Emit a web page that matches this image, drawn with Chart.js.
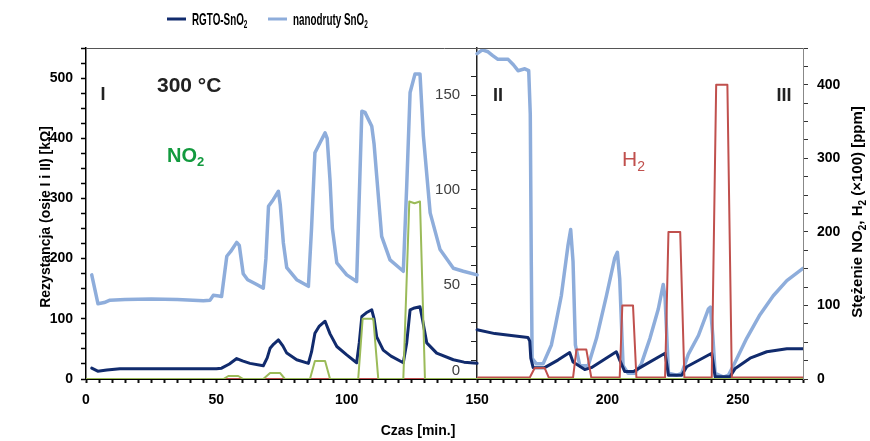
<!DOCTYPE html>
<html>
<head>
<meta charset="utf-8">
<script src="https://cdn.jsdelivr.net/npm/chart.js@4.4.1/dist/chart.umd.min.js"></script>
<style>
  body { margin: 0; background: #fff; }
  #wrap { width: 870px; height: 441px; }
</style>
</head>
<body>
<div id="wrap"><canvas id="myChart" width="870" height="441"></canvas></div>
<script>
// serie
const seriesNames = ['RGTO-SnO₂', 'nanodruty SnO₂'];

// RGTO-SnO2, os I (0-150 min)
const rgtoLeftTime = [2.2, 4.5, 8, 13, 30, 50, 52, 55, 57.8, 60, 62.9, 68, 69.5, 70.6, 72, 73.8, 75.5, 77, 80.8, 85.3,
  86.5, 87.8, 89.5, 91.7, 93.6, 96.2, 100, 103.8, 104.8, 105.8, 107.5, 109.6, 110.5, 111.5, 114, 117, 121.7, 123, 124.3, 126,
  128.1, 129, 130.7, 134.5, 140.9, 145, 150];
const rgtoLeftRes = [18, 13, 15, 17, 17, 17, 18, 25, 34, 30, 26, 22, 35, 51, 58, 65, 55, 43, 32, 26,
  45, 76, 88, 96, 75, 54, 40, 27, 60, 104, 110, 115, 100, 70, 48, 38, 27, 60, 115, 118,
  120, 100, 60, 43, 32, 28, 26];

// RGTO-SnO2, os II (150-275 min)
const rgtoRightTime = [150, 156.8, 163.1, 169.5, 170.2, 170.6, 171.5, 175.9, 181, 185.5, 186.8, 191.3, 193.8, 203.4, 204.7,
  206.6, 210, 212.5, 222.1, 223.4, 228.5, 230.4, 240, 241.3, 247, 249, 254.7, 261.1, 268.8, 275];
const rgtoRightRes = [26, 24, 23, 22, 20, 11, 6, 6, 10, 14, 9, 5, 6, 14.4, 10,
  4, 4, 6, 13.6, 2, 2, 6.5, 13.6, 1.2, 1.2, 5.6, 11, 14.4, 16, 16];

// nanodruty SnO2, os I
const nanoLeftTime = [2.2, 4.6, 7, 9.2, 15, 25, 35, 45, 47.6, 48.8, 51, 52, 54, 55.5, 57.8, 58.8, 60.3, 62, 65.5, 68,
  69, 70, 71.8, 73.8, 74.5, 75.7, 77, 80.8, 85.3, 86.5, 87.8, 89.8, 91.7, 92.5, 93.6, 94.5, 96.2, 100, 103.8, 105,
  105.8, 107, 109.6, 110.5, 111.5, 113.4, 116.6, 121.7, 123, 124.3, 126.2, 128.1, 129.4, 132, 135.8, 140.9, 144.7, 150];
const nanoLeftRes = [173, 125, 127, 131, 132, 133, 132, 130, 131, 139, 138, 137, 204, 212, 227, 222, 175, 165, 157, 151,
  200, 287, 298, 312, 290, 226, 185, 165, 154, 250, 376, 393, 409, 400, 330, 250, 193, 173, 162, 330,
  445, 443, 420, 390, 337, 237, 198, 179, 320, 476, 507, 507, 404, 276, 215, 184, 179, 173];

// nanodruty SnO2, os II
const nanoRightTime = [150, 152, 154.2, 156, 158, 161.9, 164, 165.7, 168.3, 169.8, 170.4, 170.8, 171.1, 172.7, 175.3, 178.5,
  180, 182.3, 184.9, 185.9, 186.8, 187.7, 189.4, 192.6, 195.8, 199.6, 202.8, 203.8, 204.7, 206, 207.9, 210.5, 213,
  216.3, 219.5, 221.4, 222.1, 223.4, 226.6, 228.5, 231, 234.9, 238.7, 239.5, 240.4, 241.3, 244.5, 246.4, 249, 253.4,
  258.5, 263.6, 268.8, 275];
const nanoRightRes = [172, 174, 173, 171, 169, 169, 166, 163, 164, 163, 140, 60, 11, 8, 8, 18,
  28, 44, 71, 79, 62, 18, 7, 7, 21.5, 44, 64, 67, 53, 7, 3, 3, 8,
  21.5, 37, 50, 43, 3, 2, 3, 13, 23, 37, 38, 23, 3, 1, 2, 9, 21.5,
  34, 44, 52, 58.5];

// stezenie NO2 (os I) i H2 (os III)
const no2Time = [0, 52.7, 54.6, 58.4, 60.3, 68, 70.6, 74.4, 76.3, 85.9, 87.8, 91.7, 93.6, 104.4, 106.1, 110.2, 112.1,
  121.7, 124, 126, 128.1, 130, 275];
const no2Conc = [0, 0, 5, 5, 0, 0, 10, 10, 0, 0, 30, 30, 0, 0, 100, 100, 0, 0, 295, 292, 295, 0, 0];
const h2Time = [0, 150, 150.5, 170.2, 172.1, 175.9, 177.5, 186.8, 188.1, 191.9, 193.8, 204.7, 205.7, 209.8, 211.1,
  222.1, 223.4, 227.9, 229.5, 240, 241.7, 246, 247.7, 275];
const h2Conc = [0, 0, 2, 2, 15, 15, 2, 2, 40, 40, 2, 2, 100, 100, 2, 2, 200, 200, 2, 2, 400, 400, 2, 2];

// osie
const axisITicks = [0, 100, 200, 300, 400, 500];
const axisIITicks = [0, 50, 100, 150];
const axisIIITicks = [0, 100, 200, 300, 400];
const timeTicks = [0, 50, 100, 150, 200, 250];

const FONT = '"Liberation Sans", Arial, sans-serif';
const DARK = '#112b6d';
const LIGHT = '#8eaddb';

const pts = (t, v) => t.map((x, i) => ({ x: x, y: v[i] }));

// tekst z indeksem dolnym (₂)
function drawRich(ctx, text, x, y, o) {
  const parts = [];
  for (const ch of text) {
    const sub = ch === '₂';
    const c = sub ? '2' : ch;
    const last = parts[parts.length - 1];
    if (last && last.sub === sub) last.t += c; else parts.push({ t: c, sub: sub });
  }
  const w = o.weight || 'normal';
  const fontFor = p => w + ' ' + (p.sub ? Math.round(o.size * 0.65) : o.size) + 'px ' + FONT;
  let total = 0;
  parts.forEach(p => { ctx.font = fontFor(p); p.w = ctx.measureText(p.t).width; total += p.w; });
  ctx.save();
  ctx.translate(x, y);
  if (o.rotate) ctx.rotate(o.rotate);
  ctx.scale(o.sx || 1, 1);
  let cx = o.align === 'center' ? -total / 2 : (o.align === 'right' ? -total : 0);
  ctx.fillStyle = o.color || '#000';
  ctx.textBaseline = 'middle';
  ctx.textAlign = 'left';
  parts.forEach(p => {
    ctx.font = fontFor(p);
    ctx.fillText(p.t, cx, p.sub ? o.size * 0.32 : 0);
    cx += p.w;
  });
  ctx.restore();
}

const overlay = {
  id: 'overlay',
  afterDraw(chart) {
    const ctx = chart.ctx;
    const a = chart.chartArea;
    ctx.save();
    // gorna ramka
    ctx.strokeStyle = '#555';
    ctx.lineWidth = 1;
    ctx.beginPath();
    ctx.moveTo(a.left, a.top + 0.5);
    ctx.lineTo(a.right, a.top + 0.5);
    ctx.stroke();

    // legenda
    const lx = [167, 268];
    seriesNames.forEach((name, i) => {
      ctx.strokeStyle = i === 0 ? DARK : LIGHT;
      ctx.lineWidth = 3;
      ctx.beginPath();
      ctx.moveTo(lx[i], 19);
      ctx.lineTo(lx[i] + 19, 19);
      ctx.stroke();
      drawRich(ctx, name, lx[i] + 25, 20, { size: 17, weight: 'bold', sx: 0.58 });
    });

    // tytuly osi
    drawRich(ctx, 'Czas [min.]', 418, 431, { size: 14, weight: 'bold', align: 'center' });
    drawRich(ctx, 'Rezystancja (osie I i II) [kΩ]', 46, 217, { size: 14, weight: 'bold', align: 'center', rotate: -Math.PI / 2 });
    drawRich(ctx, 'Stężenie NO₂, H₂ (×100) [ppm]', 858, 212, { size: 15, weight: 'bold', align: 'center', rotate: -Math.PI / 2 });

    // opisy
    drawRich(ctx, 'I', 103, 95, { size: 18, weight: 'bold', align: 'center', color: '#222' });
    drawRich(ctx, '300 °C', 157, 86, { size: 21, weight: 'bold', color: '#222' });
    drawRich(ctx, 'NO₂', 167, 156, { size: 20, weight: 'bold', color: '#129a3e' });
    drawRich(ctx, 'II', 498, 96, { size: 18, weight: 'bold', align: 'center', color: '#222' });
    drawRich(ctx, 'III', 784, 96, { size: 18, weight: 'bold', align: 'center', color: '#222' });
    drawRich(ctx, 'H₂', 622, 160, { size: 21, color: '#c0504d' });

    // etykiety osi II (wewnatrz wykresu, po lewej stronie osi)
    const y2 = chart.scales.yII;
    const ax2 = chart.scales.x.getPixelForValue(150);
    axisIITicks.forEach(v => {
      const py = y2.getPixelForValue(v) - (v === 0 ? 8 : 0);
      drawRich(ctx, String(v), ax2 - 17, py, { size: 15, align: 'right', color: '#404040' });
    });
    ctx.restore();
  }
};

const data = {
  datasets: [
    { label: 'NO₂', data: pts(no2Time, no2Conc), yAxisID: 'yI', borderColor: '#9bbb59', borderWidth: 2 },
    { label: 'H₂', data: pts(h2Time, h2Conc), yAxisID: 'yIII', borderColor: '#c0504d', borderWidth: 2 },
    { label: seriesNames[0], data: pts(rgtoLeftTime, rgtoLeftRes), yAxisID: 'yI', borderColor: DARK, borderWidth: 3 },
    { label: seriesNames[0], data: pts(rgtoRightTime, rgtoRightRes), yAxisID: 'yII', borderColor: DARK, borderWidth: 3 },
    { label: seriesNames[1], data: pts(nanoLeftTime, nanoLeftRes), yAxisID: 'yI', borderColor: LIGHT, borderWidth: 3.5 },
    { label: seriesNames[1], data: pts(nanoRightTime, nanoRightRes), yAxisID: 'yII', borderColor: LIGHT, borderWidth: 3.5 },
  ],
};

const boldTicks = { family: FONT, size: 14, weight: 'bold' };

const options = {
  responsive: false,
  animation: false,
  layout: { padding: { top: 48 } },
  elements: {
    point: { radius: 0 },
    line: { tension: 0, borderJoinStyle: 'round', borderCapStyle: 'round', fill: false },
  },
  plugins: { legend: { display: false }, tooltip: { enabled: false } },
  scales: {
    x: {
      type: 'linear', min: 0, max: 275,
      afterFit: s => { s.height = 62; },
      border: { color: '#000', width: 1 },
      grid: { drawOnChartArea: false, tickLength: 4, tickWidth: 2, tickColor: '#111' },
      ticks: {
        stepSize: 5, autoSkip: false, maxRotation: 0, padding: 9, color: '#000', font: boldTicks,
        callback: v => timeTicks.includes(v) ? v : '',
      },
    },
    yI: {
      position: 'left', min: 0, max: 550,
      afterFit: s => { s.width = 86; },
      border: { color: '#000', width: 1.5 },
      grid: { drawOnChartArea: false, tickLength: 5, tickWidth: 1.5, tickColor: '#000' },
      ticks: {
        stepSize: 25, autoSkip: false, padding: 8, color: '#000', font: boldTicks,
        callback: v => axisITicks.includes(v) ? v : '',
      },
    },
    yII: {
      position: { x: 150 }, min: 0, max: 175,
      border: { color: '#222', width: 1.5 },
      grid: { drawOnChartArea: false, tickLength: 5, tickWidth: 1, tickColor: '#222' },
      ticks: { stepSize: 10, autoSkip: false, callback: () => '' },
    },
    yIII: {
      position: 'right', min: 0, max: 450,
      afterFit: s => { s.width = 67; },
      border: { color: '#888', width: 1 },
      grid: { drawOnChartArea: false, tickLength: 5, tickWidth: 1, tickColor: '#333' },
      ticks: {
        stepSize: 25, autoSkip: false, padding: 9, color: '#000', font: boldTicks,
        callback: v => axisIIITicks.includes(v) ? v : '',
      },
    },
  },
};

const ctx = document.getElementById('myChart').getContext('2d');
const myChart = new Chart(ctx, {
  type: 'line',
  data: data,
  options: options,
  plugins: [overlay],
});
</script>
</body>
</html>
